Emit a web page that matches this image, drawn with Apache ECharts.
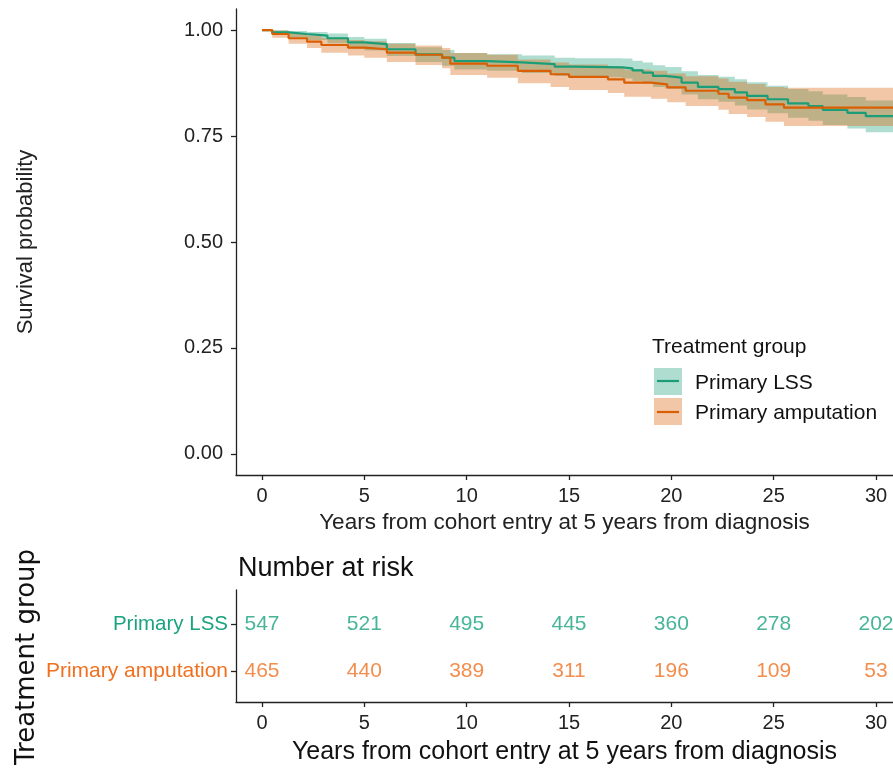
<!DOCTYPE html>
<html>
<head>
<meta charset="utf-8">
<script src="https://cdn.jsdelivr.net/npm/echarts@6/dist/echarts.min.js"></script>
<style>
html,body{margin:0;padding:0;background:#fff;}
#chart{width:893px;height:768px;}
</style>
</head>
<body>
<div id="chart"></div>
<script>
// ---- Data ----
const groupNames = ['Primary LSS', 'Primary amputation'];
const xTicks = [0, 5, 10, 15, 20, 25, 30];
const yTicks = [0, 0.25, 0.5, 0.75, 1];

const lssTime  = [0, 0.5, 1.3, 2.2, 3.2, 4.2, 5.0, 6.1, 7.5, 8.8, 9.4, 11.0, 12.7, 14.3, 15.3, 17.6, 18.1, 18.6, 19.1, 19.7, 20.5, 21.3, 22.3, 23.1, 23.7, 24.7, 25.7, 26.7, 27.4, 28.6, 29.5, 30.83];
const lssSurv  = [1.000, 0.995, 0.991, 0.987, 0.981, 0.971, 0.967, 0.955, 0.943, 0.935, 0.927, 0.924, 0.920, 0.914, 0.912, 0.910, 0.905, 0.900, 0.892, 0.888, 0.876, 0.866, 0.861, 0.853, 0.845, 0.837, 0.827, 0.821, 0.812, 0.805, 0.797, 0.797];
const lssUpper = [1.000, 1.000, 0.998, 0.996, 0.992, 0.984, 0.980, 0.970, 0.960, 0.953, 0.946, 0.943, 0.940, 0.935, 0.934, 0.933, 0.928, 0.924, 0.917, 0.913, 0.903, 0.894, 0.890, 0.884, 0.877, 0.869, 0.861, 0.856, 0.848, 0.842, 0.834, 0.834];
const lssLower = [1.000, 0.989, 0.983, 0.977, 0.969, 0.957, 0.952, 0.939, 0.925, 0.916, 0.907, 0.904, 0.899, 0.892, 0.889, 0.886, 0.880, 0.875, 0.866, 0.862, 0.848, 0.837, 0.831, 0.822, 0.813, 0.804, 0.793, 0.786, 0.776, 0.768, 0.759, 0.759];

const ampTime  = [0, 0.5, 1.3, 2.2, 2.9, 4.2, 5.0, 6.1, 7.5, 8.8, 9.2, 11.0, 12.5, 14.1, 15.0, 16.9, 17.7, 19.0, 19.8, 20.7, 22.3, 22.8, 23.7, 24.6, 25.5, 30.83];
const ampSurv  = [1.000, 0.991, 0.981, 0.973, 0.965, 0.959, 0.955, 0.947, 0.942, 0.935, 0.921, 0.916, 0.904, 0.896, 0.890, 0.884, 0.876, 0.872, 0.865, 0.857, 0.850, 0.841, 0.835, 0.825, 0.817, 0.817];
const ampUpper = [1.000, 0.999, 0.993, 0.988, 0.982, 0.977, 0.974, 0.968, 0.964, 0.958, 0.946, 0.942, 0.931, 0.924, 0.919, 0.914, 0.907, 0.904, 0.898, 0.891, 0.886, 0.878, 0.873, 0.866, 0.864, 0.864];
const ampLower = [1.000, 0.982, 0.968, 0.958, 0.947, 0.940, 0.935, 0.925, 0.918, 0.910, 0.894, 0.888, 0.875, 0.866, 0.859, 0.852, 0.843, 0.838, 0.830, 0.821, 0.812, 0.802, 0.795, 0.784, 0.774, 0.774];

const riskTimes = [0, 5, 10, 15, 20, 25, 30];
const riskLSS   = [547, 521, 495, 445, 360, 278, 202];
const riskAmp   = [465, 440, 389, 311, 196, 109, 53];

// ---- Styles ----
const GREEN = '#1b9e77', ORANGE = '#d95f02';
const GREEN_TXT = '#1aa37f', ORANGE_TXT = '#f07020';
const FONT = 'Liberation Sans, Arial, sans-serif';
const AX = '#222';

function pairs(t, v) { return t.map((x, i) => [x, v[i]]); }

const XMIN = -1.27, XMAX = 30.83;

// Step-shaped confidence band drawn through the axis scales (api.coord)
function bandSeries(t, lo, hi, color) {
  return {
    type: 'custom', xAxisIndex: 0, yAxisIndex: 0, silent: true, clip: true, z: 1,
    data: [[t[0], hi[0]]],
    renderItem: function (params, api) {
      const top = [], bot = [];
      for (let i = 0; i < t.length; i++) {
        if (i > 0) {
          top.push(api.coord([t[i], hi[i - 1]]));
          bot.push(api.coord([t[i], lo[i - 1]]));
        }
        top.push(api.coord([t[i], hi[i]]));
        bot.push(api.coord([t[i], lo[i]]));
      }
      const points = top.concat(bot.reverse());
      return { type: 'polygon', shape: { points: points }, style: { fill: color, opacity: 0.35 } };
    }
  };
}

const chart = echarts.init(document.getElementById('chart'), null, { renderer: 'canvas' });

const option = {
  animation: false,
  backgroundColor: '#fff',
  textStyle: { fontFamily: FONT },
  grid: [
    { left: 236, top: 9, width: 657, height: 466, outerBoundsMode: 'none', containLabel: false },
    { left: 236, top: 590, width: 657, height: 112, outerBoundsMode: 'none', containLabel: false }
  ],
  xAxis: [
    { type: 'value', gridIndex: 0, min: XMIN, max: XMAX,
      axisLine: { show: true, onZero: false, lineStyle: { color: AX, width: 1.3 } },
      axisTick: { show: true, length: 5, lineStyle: { color: AX, width: 1.3 }, customValues: xTicks },
      axisLabel: { customValues: xTicks, color: AX, fontSize: 20, margin: 11, fontFamily: FONT },
      splitLine: { show: false },
      name: 'Years from cohort entry at 5 years from diagnosis', nameLocation: 'middle', nameGap: 36,
      nameTextStyle: { color: AX, fontSize: 22.5, fontFamily: FONT } },
    { type: 'value', gridIndex: 1, min: XMIN, max: XMAX,
      axisLine: { show: true, onZero: false, lineStyle: { color: AX, width: 1.3 } },
      axisTick: { show: true, length: 5, lineStyle: { color: AX, width: 1.3 }, customValues: xTicks },
      axisLabel: { customValues: xTicks, color: AX, fontSize: 20, margin: 11, fontFamily: FONT },
      splitLine: { show: false },
      name: 'Years from cohort entry at 5 years from diagnosis', nameLocation: 'middle', nameGap: 38,
      nameTextStyle: { color: '#111', fontSize: 25, fontFamily: FONT } }
  ],
  yAxis: [
    { type: 'value', gridIndex: 0, min: -0.05, max: 1.05,
      axisLine: { show: true, onZero: false, lineStyle: { color: AX, width: 1.3 } },
      axisTick: { show: true, length: 5, lineStyle: { color: AX, width: 1.3 }, customValues: yTicks },
      axisLabel: { customValues: yTicks, color: AX, fontSize: 20, margin: 13, fontFamily: FONT,
        formatter: v => v.toFixed(2) },
      splitLine: { show: false },
      name: 'Survival probability', nameLocation: 'middle', nameGap: 199, nameRotate: 90,
      nameTextStyle: { color: AX, fontSize: 22, fontFamily: FONT } },
    { type: 'value', gridIndex: 1, min: 0.34, max: 2.72,
      axisLine: { show: true, onZero: false, lineStyle: { color: AX, width: 1.3 } },
      axisTick: { show: true, length: 5, lineStyle: { color: AX, width: 1.3 }, customValues: [1, 2] },
      axisLabel: { customValues: [1, 2], margin: 8, fontSize: 20.5, fontFamily: FONT,
        formatter: v => v === 2 ? '{g|' + groupNames[0] + '}' : '{o|' + groupNames[1] + '}',
        rich: { g: { color: GREEN_TXT, fontSize: 20.5, fontFamily: FONT },
                o: { color: ORANGE_TXT, fontSize: 21, fontFamily: FONT } } },
      splitLine: { show: false } }
  ],
  title: {
    text: 'Number at risk', left: 233, top: 550,
    textStyle: { fontSize: 27, fontWeight: 'normal', color: '#111', fontFamily: FONT }
  },
  graphic: [
    { type: 'text', x: 27, y: 657, rotation: Math.PI / 2,
      style: { text: 'Treatment group', fontSize: 26, fontFamily: 'DejaVu Sans, sans-serif', fill: '#111',
        textAlign: 'center', textVerticalAlign: 'middle' } },
    { type: 'text', x: 652, y: 347,
      style: { text: 'Treatment group', fontSize: 21, fontFamily: FONT, fill: '#111', textVerticalAlign: 'middle' } },
    { type: 'rect', shape: { x: 654, y: 368, width: 28, height: 27 }, style: { fill: GREEN, opacity: 0.35 } },
    { type: 'line', shape: { x1: 657, y1: 381, x2: 679, y2: 381 }, style: { stroke: GREEN, lineWidth: 2.2 } },
    { type: 'rect', shape: { x: 654, y: 398, width: 28, height: 27 }, style: { fill: ORANGE, opacity: 0.35 } },
    { type: 'line', shape: { x1: 657, y1: 412, x2: 679, y2: 412 }, style: { stroke: ORANGE, lineWidth: 2.2 } },
    { type: 'text', x: 695, y: 383,
      style: { text: groupNames[0], fontSize: 21, fontFamily: FONT, fill: '#111', textVerticalAlign: 'middle' } },
    { type: 'text', x: 695, y: 413,
      style: { text: groupNames[1], fontSize: 21, fontFamily: FONT, fill: '#111', textVerticalAlign: 'middle' } }
  ],
  series: [
    bandSeries(lssTime, lssLower, lssUpper, GREEN),
    bandSeries(ampTime, ampLower, ampUpper, ORANGE),
    { type: 'line', name: groupNames[0], xAxisIndex: 0, yAxisIndex: 0, step: 'end', symbol: 'none',
      data: pairs(lssTime, lssSurv), lineStyle: { color: GREEN, width: 2.2 }, z: 3 },
    { type: 'line', name: groupNames[1], xAxisIndex: 0, yAxisIndex: 0, step: 'end', symbol: 'none',
      data: pairs(ampTime, ampSurv), lineStyle: { color: ORANGE, width: 2.2 }, z: 3 },
    { type: 'scatter', xAxisIndex: 1, yAxisIndex: 1, symbolSize: 1, itemStyle: { color: 'rgba(0,0,0,0)' },
      data: riskTimes.map((t, i) => [t, 2, riskLSS[i]]),
      label: { show: true, position: 'inside', formatter: p => String(p.value[2]),
        color: GREEN_TXT, fontSize: 21, fontFamily: FONT } },
    { type: 'scatter', xAxisIndex: 1, yAxisIndex: 1, symbolSize: 1, itemStyle: { color: 'rgba(0,0,0,0)' },
      data: riskTimes.map((t, i) => [t, 1, riskAmp[i]]),
      label: { show: true, position: 'inside', formatter: p => String(p.value[2]),
        color: ORANGE_TXT, fontSize: 21, fontFamily: FONT } }
  ]
};
chart.setOption(option);
</script>
</body>
</html>
